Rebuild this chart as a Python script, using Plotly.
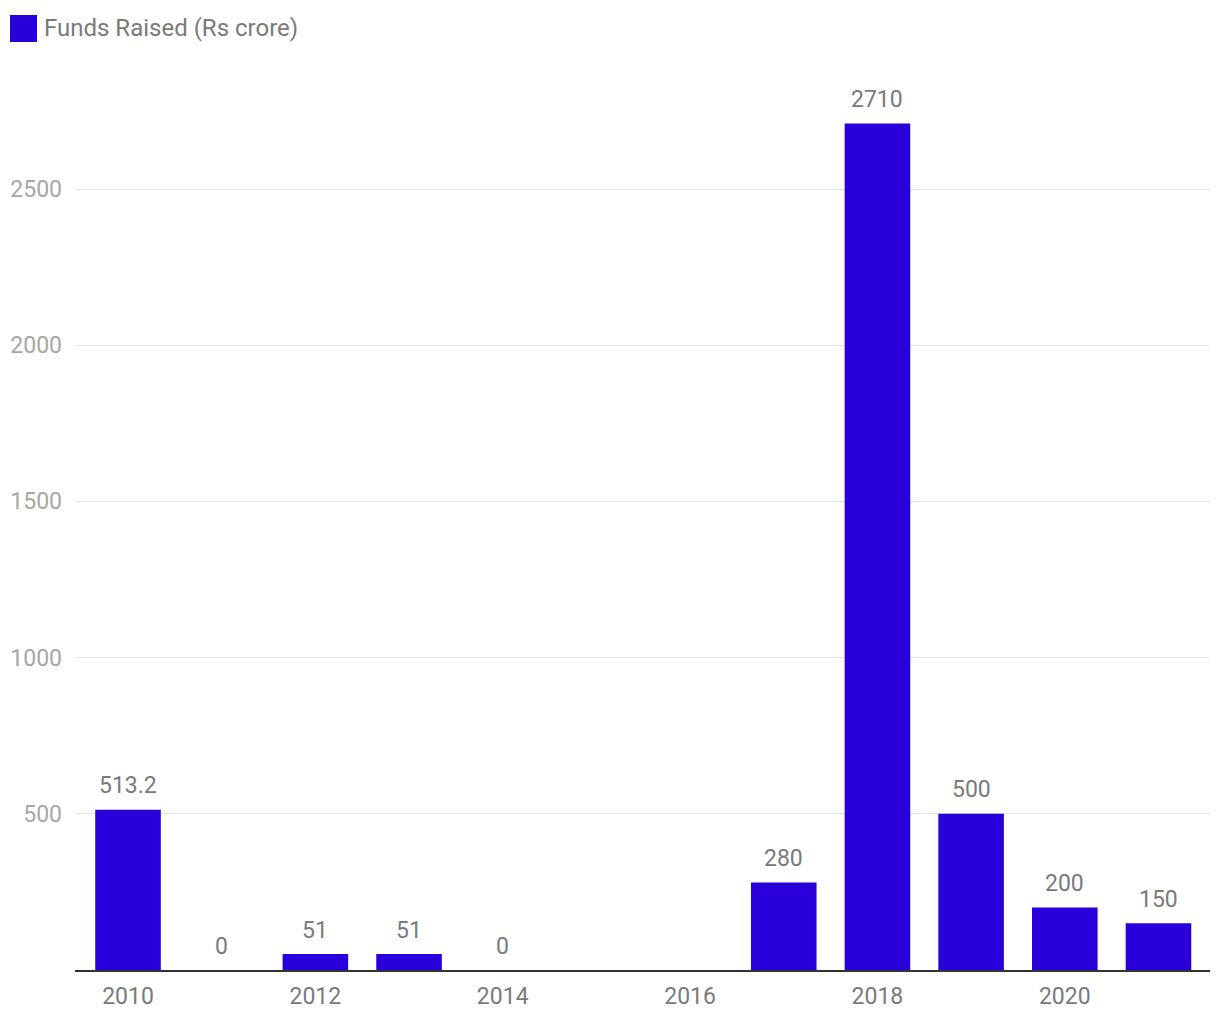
import plotly.graph_objects as go

years = [2010, 2011, 2012, 2013, 2014, 2015, 2016, 2017, 2018, 2019, 2020, 2021]
funds = [513.2, 0, 51, 51, 0, None, None, 280, 2710, 500, 200, 150]
series_name = "Funds Raised (Rs crore)"
y_ticks = [500, 1000, 1500, 2000, 2500]
x_ticks = [2010, 2012, 2014, 2016, 2018, 2020]

BAR = "#2900d9"
FONT = "Roboto"
TXT = "#7a7a7a"

fig = go.Figure()
fig.add_trace(go.Bar(
    x=years, y=funds, name=series_name,
    marker=dict(color=BAR, line=dict(width=0)),
    width=0.7,
    showlegend=False,
))

annotations = []
for x, v in zip(years, funds):
    if v is None:
        continue
    annotations.append(dict(
        x=x, y=v, xref="x", yref="y", text=f"{v:g}",
        showarrow=False, yanchor="middle", yshift=24,
        font=dict(family=FONT, size=23, color=TXT),
    ))

PT, PB = 60, 50
PH = 1020 - PT - PB
def py(pix):
    return (1020 - PB - pix) / PH

annotations.append(dict(text=series_name, xref="paper", yref="paper",
                        x=-33/1135, y=py(28), xanchor="left", yanchor="middle",
                        showarrow=False, font=dict(family=FONT, size=24, color=TXT)))

fig.update_layout(
    width=1220, height=1020,
    margin=dict(l=75, r=10, t=PT, b=PB),
    paper_bgcolor="white", plot_bgcolor="white",
    font=dict(family=FONT, size=23, color=TXT),
    xaxis=dict(
        range=[2009.434, 2021.55],
        tickvals=x_ticks, ticktext=[str(t) for t in x_ticks],
        showgrid=False, zeroline=False,
        showline=True, linecolor="#333333", linewidth=2,
        ticks="", ticklabelstandoff=4,
        tickfont=dict(family=FONT, size=23, color=TXT),
    ),
    yaxis=dict(
        range=[0, 2913],
        tickvals=y_ticks, ticktext=[str(t) for t in y_ticks],
        showgrid=True, gridcolor="#e3e3e3", gridwidth=1,
        zeroline=False, showline=False, ticks="",
        ticklabelstandoff=12,
        tickfont=dict(family=FONT, size=23, color="#a6a6a6"),
    ),
    shapes=[dict(type="rect", xref="paper", yref="paper",
                 x0=-65/1135, x1=-38/1135, y0=py(42), y1=py(15),
                 fillcolor=BAR, line=dict(width=0))],
    annotations=annotations,
)

fig.write_html("out.html")
